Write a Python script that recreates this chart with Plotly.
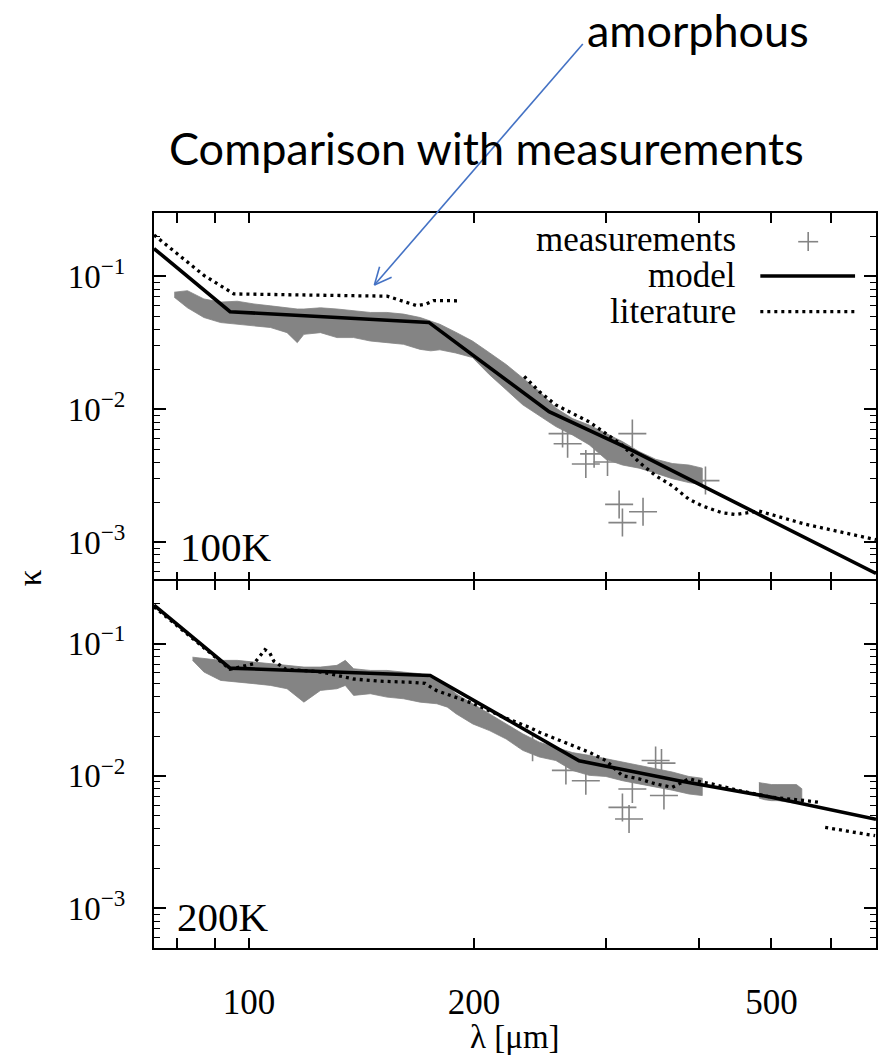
import math
import plotly.graph_objects as go
from plotly.subplots import make_subplots

# ---------------- data ----------------
# 100K panel: measurement band (dense "+" marks) envelope
top_band_lam = [79.4, 82.7, 87.0, 91.6, 96.4, 101.5, 106.8, 112.4, 116.0, 118.4, 124.6, 131.1, 138.0,
                145.3, 152.9, 160.9, 169.4, 175.0, 180.0, 189.0, 199.0, 209.7, 220.8, 232.3, 244.5,
                257.3, 270.8, 285.1, 300.2, 315.9, 332.5, 349.9, 368.3, 387.7, 404.0]
top_band_hi = [0.076, 0.078, 0.0676, 0.064, 0.065, 0.062, 0.060, 0.058, 0.0568, 0.0568, 0.058, 0.0568, 0.0551,
               0.0535, 0.0535, 0.052, 0.049, 0.0463, 0.0436, 0.038, 0.0326, 0.0266, 0.0217, 0.0172, 0.0136,
               0.0102, 0.0085, 0.0076, 0.0066, 0.0057, 0.0048, 0.0042, 0.0039, 0.0038, 0.0036]
top_band_lo = [0.0697, 0.058, 0.049, 0.0449, 0.0437, 0.0424, 0.0412, 0.0377, 0.0317, 0.0366, 0.0377, 0.0346, 0.0346,
               0.0326, 0.0317, 0.0308, 0.0282, 0.0275, 0.028, 0.0265, 0.0245, 0.0182, 0.0140, 0.0108, 0.0090,
               0.0074, 0.0064, 0.0054, 0.0042, 0.0038, 0.0036, 0.0033, 0.0030, 0.0028, 0.0027]
# 100K panel: isolated measurement points
top_pts_lam = [262.7, 266.8, 282.2, 289.5, 301.7, 312.7, 315.9, 325.7, 336.6, 408.0]
top_pts_kap = [0.00655, 0.0055, 0.00387, 0.00461, 0.0040, 0.00192, 0.0014, 0.00655, 0.00169, 0.0029]
# 100K model and literature
top_model_lam = [74.6, 94.3, 174.0, 252.0, 322.4, 690.0]
top_model_kap = [0.162, 0.0542, 0.045, 0.00957, 0.00503, 0.00058]
top_lit_lam = [74.6, 87.0, 95.4, 105, 120, 138, 153, 162.6, 167.6, 172.6, 176.5, 190, None,
               233.4, 244.5, 257.3, 270.8, 285.1, 300.2, 315.9, 332.5, 349.9, 368.3, 387.7, 404,
               429.6, 447.7, 481.1, 555, 690]
top_lit_kap = [0.205, 0.1018, 0.0738, 0.0730, 0.0725, 0.0715, 0.0710, 0.0638, 0.0602, 0.062, 0.0657, 0.0655, None,
               0.01766, 0.0136, 0.01076, 0.0093, 0.00803, 0.00655, 0.00535, 0.00399, 0.00316, 0.00265, 0.0021,
               0.00187, 0.00166, 0.00161, 0.00171, 0.00136, 0.00104]

# 200K panel: measurement band envelope
bot_band_lam = [84.0, 87.0, 91.6, 96.4, 101.5, 106.8, 112.4, 118.4, 124.6, 131.1, 134.5, 138.0, 145.3,
                152.9, 160.9, 169.4, 178.3, 184.2, 189.2, 199.2, 209.7, 220.8, 232.3, 244.5, 257.3,
                270.8, 285.1, 300.2, 315.9, 332.5, 349.9, 368.3, 387.7, 404.0]
bot_band_hi = [0.079, 0.077, 0.0747, 0.0747, 0.0725, 0.0705, 0.0685, 0.0665, 0.0665, 0.0685, 0.0747, 0.0646, 0.0627,
               0.0627, 0.0609, 0.0592, 0.0527, 0.0483, 0.0418, 0.035, 0.0295, 0.0247, 0.0208, 0.018, 0.0165,
               0.0150, 0.0143, 0.0135, 0.0127, 0.0119, 0.0113, 0.0107, 0.0099, 0.0096]
bot_band_lo = [0.0747, 0.061, 0.0527, 0.0512, 0.0498, 0.0483, 0.0456, 0.0361, 0.0443, 0.0456, 0.0483, 0.0406, 0.0418,
               0.0394, 0.0383, 0.0361, 0.0351, 0.0331, 0.0295, 0.0247, 0.022, 0.019, 0.0156, 0.0139, 0.01306,
               0.0110, 0.0101, 0.0099, 0.0092, 0.0087, 0.0082, 0.0078, 0.0073, 0.0071]
bot_patch_lam = [481, 490, 500, 510, 520, 530, 540, 549]
bot_patch_hi = [0.0089, 0.0087, 0.0086, 0.0086, 0.0086, 0.0087, 0.0086, 0.0080]
bot_patch_lo = [0.0068, 0.0066, 0.0065, 0.0065, 0.0064, 0.0063, 0.0062, 0.0063]
bot_pts_lam = [239.5, 265.4, 282.2, 315.9, 322.4, 325.7, 349.9, 356.3, 359.0]
bot_pts_kap = [0.0165, 0.0110, 0.0092, 0.00578, 0.00472, 0.00797, 0.01306, 0.0125, 0.0071]
# 200K model and literature
bot_model_lam = [74.6, 94.3, 174.7, 276.4, 375.9, 500.0, 690.0]
bot_model_kap = [0.195, 0.0653, 0.0575, 0.0130, 0.0092, 0.0069, 0.0047]
bot_lit_lam = [74.6, 94.3, 101.5, 103.4, 105.0, 106.6, 107.9, 112, 125, 138, 150, 165, 172, 178, 187, 200, 220,
               237.1, 244.5, 257.3, 270.8, 285.1, 300.2, 315.9, 332.5, 349.9, 368.3, 387.7, 404, 416.2, 450,
               500, 555, 581, None, 590, 688]
bot_lit_kap = [0.19, 0.064, 0.0705, 0.0801, 0.090, 0.0849, 0.0738, 0.064, 0.061, 0.054, 0.052, 0.051, 0.050,
               0.0443, 0.040, 0.035, 0.0275, 0.0233, 0.0214, 0.0191, 0.0170, 0.0151, 0.01306, 0.01005, 0.0095,
               0.0087, 0.0082, 0.0095, 0.00894, 0.0087, 0.0078, 0.0069, 0.0065, 0.0063, None, 0.00408, 0.00353]

x_tickvals = [80, 90, 100, 200, 300, 400, 500, 600]
x_ticktext = ["", "", "100", "200", "", "", "500", ""]
y_tickvals = [1e-3, 1e-2, 1e-1]
y_ticktext = ["10<sup>\u22123</sup>", "10<sup>\u22122</sup>", "10<sup>\u22121</sup>"]
panel_labels = ["100K", "200K"]
legend_labels = ["measurements", "model", "literature"]

# ---------------- figure ----------------
SERIF = "Liberation Serif, Times New Roman, DejaVu Serif, serif"
SANS = "Lato, Open Sans, sans-serif"
GRAY = "#848484"
W, H = 887, 1056
ML, MR, MT, MB = 154, 9, 213, 108
PW, PH = W - ML - MR, H - MT - MB
LW = 1.5


def px(x):
    return (x - ML) / PW


def py(y):
    return (H - MB - y) / PH


fig = make_subplots(rows=2, cols=1, shared_xaxes=True, vertical_spacing=0)


def add_band(lam, hi, lo, row):
    fig.add_trace(go.Scatter(x=lam + lam[::-1], y=hi + lo[::-1], fill="toself", fillcolor=GRAY,
                             mode="lines", line=dict(width=0.8, color=GRAY), hoverinfo="skip",
                             showlegend=False), row=row, col=1)


def add_pts(lam, kap, row):
    fig.add_trace(go.Scatter(x=lam, y=kap, mode="markers",
                             marker=dict(symbol="cross-thin", size=20, color=GRAY,
                                         line=dict(color=GRAY, width=1.6)),
                             showlegend=False), row=row, col=1)


def add_line(lam, kap, row, dotted):
    fig.add_trace(go.Scatter(x=lam, y=kap, mode="lines", connectgaps=False,
                             line=dict(color="black", width=3.3 if dotted else 3.6,
                                       dash="3px,4px" if dotted else "solid"),
                             showlegend=False), row=row, col=1)


add_band(top_band_lam, top_band_hi, top_band_lo, 1)
add_pts(top_pts_lam, top_pts_kap, 1)
add_line(top_lit_lam, top_lit_kap, 1, True)
add_line(top_model_lam, top_model_kap, 1, False)

add_band(bot_band_lam, bot_band_hi, bot_band_lo, 2)
add_band(bot_patch_lam, bot_patch_hi, bot_patch_lo, 2)
add_pts(bot_pts_lam, bot_pts_kap, 2)
add_line(bot_lit_lam, bot_lit_kap, 2, True)
add_line(bot_model_lam, bot_model_kap, 2, False)

minor_vals = [k * 10 ** e for e in (-4, -3, -2, -1) for k in range(2, 10)]

for r in (1, 2):
    fig.update_xaxes(type="log", range=[math.log10(74.6), math.log10(690)],
                     tickmode="array", tickvals=x_tickvals, ticktext=x_ticktext,
                     ticks="inside", ticklen=10, tickwidth=1.5, tickcolor="black",
                     showline=True, linecolor="black", linewidth=LW, mirror="ticks",
                     showgrid=False, zeroline=False, showticklabels=(r == 2),
                     tickfont=dict(family=SERIF, size=35, color="black"),
                     ticklabelstandoff=22, row=r, col=1)
    fig.update_yaxes(type="log", range=[math.log10(5e-4), math.log10(0.3)],
                     tickmode="array", tickvals=y_tickvals, ticktext=y_ticktext,
                     ticks="inside", ticklen=12, tickwidth=1.5, tickcolor="black",
                     minor=dict(tickmode="array", tickvals=minor_vals, ticks="inside",
                                ticklen=6, tickwidth=1.2, tickcolor="black"),
                     showline=True, linecolor="black", linewidth=2, mirror="ticks",
                     showgrid=False, zeroline=False,
                     tickfont=dict(family=SERIF, size=33, color="black"),
                     ticklabelstandoff=20, row=r, col=1)

# let the two panels share one divider line instead of two side by side
fig.update_yaxes(domain=[0.5 - LW / PH, 1.0], row=1, col=1)
fig.update_yaxes(domain=[0.0, 0.5], row=2, col=1)

ann = []
# panel labels
ann.append(dict(text=panel_labels[0], x=px(178), y=py(572), xref="paper", yref="paper",
                xanchor="left", yanchor="bottom", showarrow=False,
                font=dict(family=SERIF, size=41, color="black")))
ann.append(dict(text=panel_labels[1], x=px(175), y=py(942), xref="paper", yref="paper",
                xanchor="left", yanchor="bottom", showarrow=False,
                font=dict(family=SERIF, size=41, color="black")))
# axis titles
ann.append(dict(text="\u03bb [\u03bcm]", x=px(516), y=py(1037), xref="paper", yref="paper",
                xanchor="center", yanchor="middle", showarrow=False,
                font=dict(family=SERIF, size=33, color="black")))
ann.append(dict(text="\u03ba", x=px(30), y=py(578), xref="paper", yref="paper",
                xanchor="center", yanchor="middle", showarrow=False, textangle=-90,
                font=dict(family=SERIF, size=33, color="black")))
# title and note
ann.append(dict(text="Comparison with measurements", x=px(487), y=py(148), xref="paper", yref="paper",
                xanchor="center", yanchor="middle", showarrow=False,
                font=dict(family=SANS, size=45, color="black")))
ann.append(dict(text="amorphous", x=px(586), y=py(30), xref="paper", yref="paper",
                xanchor="left", yanchor="middle", showarrow=False,
                font=dict(family=SANS, size=45, color="black")))
# legend texts
for lab, yy in zip(legend_labels, [239, 275, 311]):
    ann.append(dict(text=lab, x=px(740), y=py(yy), xref="paper", yref="paper",
                    xanchor="right", yanchor="middle", showarrow=False,
                    font=dict(family=SERIF, size=35, color="black")))

shapes = []
# legend samples
shapes.append(dict(type="line", xref="paper", yref="paper", x0=px(800), x1=px(820), y0=py(241.7), y1=py(241.7),
                   line=dict(color=GRAY, width=1.6)))
shapes.append(dict(type="line", xref="paper", yref="paper", x0=px(810), x1=px(810), y0=py(232), y1=py(251),
                   line=dict(color=GRAY, width=1.6)))
shapes.append(dict(type="line", xref="paper", yref="paper", x0=px(762), x1=px(857), y0=py(276), y1=py(276),
                   line=dict(color="black", width=3.6)))
shapes.append(dict(type="line", xref="paper", yref="paper", x0=px(762), x1=px(857), y0=py(311.7), y1=py(311.7),
                   line=dict(color="black", width=3.3, dash="3px,4px")))
# arrow
BLUE = "#4472C4"
hx, hy, tx, ty = 375, 285, 584, 44
shapes.append(dict(type="line", xref="paper", yref="paper", x0=px(tx), y0=py(ty), x1=px(hx), y1=py(hy),
                   line=dict(color=BLUE, width=1.6)))
shapes.append(dict(type="line", xref="paper", yref="paper", x0=px(hx), y0=py(hy), x1=px(hx + 17.3), y1=py(hy - 7.7),
                   line=dict(color=BLUE, width=1.6)))
shapes.append(dict(type="line", xref="paper", yref="paper", x0=px(hx), y0=py(hy), x1=px(hx + 5.2), y1=py(hy - 18.3),
                   line=dict(color=BLUE, width=1.6)))

fig.update_layout(width=W, height=H, margin=dict(l=ML, r=MR, t=MT, b=MB),
                  plot_bgcolor="white", paper_bgcolor="white", showlegend=False,
                  annotations=ann, shapes=shapes)

fig.write_html("out.html")
